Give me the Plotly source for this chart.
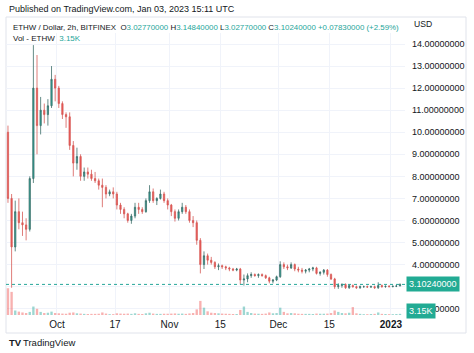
import plotly.graph_objects as go
import pandas as pd

# ---- data (daily aggregation) ----
start_day = "2022-09-17"
end_day = "2023-01-03"

opens = [
    10.0, 7.0, 4.8, 6.4, 5.9, 5.8, 5.6, 7.9, 12.0, 10.3, 11.0, 10.8, 11.2, 12.4,          # Sep 17-30
    12.0, 11.3, 10.8, 10.7, 9.4, 8.6, 8.9, 8.0, 8.2, 8.1, 7.9, 7.8, 7.6, 7.5, 7.2, 7.3,  # Oct 1-16
    7.2, 6.7, 6.5, 6.3, 6.0, 6.2, 6.6, 6.5, 6.4, 6.9, 7.3, 6.9, 7.0, 7.2, 6.9,           # Oct 17-31
    6.7, 6.4, 6.1, 6.4, 6.6, 6.4, 6.0, 5.9, 5.1, 4.0, 4.4, 4.2, 4.1, 3.9, 3.95,          # Nov 1-15
    3.9, 3.85, 3.8, 3.75, 3.8, 3.3, 3.35, 3.5, 3.55, 3.5, 3.55, 3.5, 3.4, 3.25, 3.3,     # Nov 16-30
    3.45, 4.0, 3.9, 3.85, 4.0, 3.8, 3.75, 3.7, 3.75, 3.8, 3.85, 3.6, 3.65, 3.75, 3.55,   # Dec 1-15
    3.35, 3.0, 3.05, 3.1, 2.95, 3.05, 3.0, 2.95, 3.0, 3.0, 2.98, 3.0, 2.95, 3.05, 3.0, 3.02,  # Dec 16-31
    3.0, 3.02, 3.0277,                                                                    # Jan 1-3
]
highs = [
    10.3, 7.2, 6.9, 7.0, 6.4, 6.1, 8.0, 13.95, 13.5, 11.6, 11.3, 11.5, 13.0, 12.6,
    12.1, 11.4, 10.9, 10.9, 9.6, 9.3, 9.0, 8.4, 8.4, 8.3, 8.2, 7.9, 7.9, 7.6, 7.4, 7.5,
    7.3, 6.8, 6.6, 6.35, 6.3, 6.8, 6.8, 6.6, 7.0, 7.6, 7.45, 7.05, 7.4, 7.3, 7.0,
    6.75, 6.5, 6.5, 6.8, 6.7, 6.5, 6.2, 6.0, 5.2, 4.6, 4.5, 4.35, 4.15, 4.05, 4.0,
    3.95, 3.9, 3.85, 3.85, 3.85, 3.55, 3.6, 3.65, 3.6, 3.6, 3.6, 3.55, 3.45, 3.35, 3.5,
    4.15, 4.1, 4.0, 4.1, 4.05, 3.9, 3.85, 3.8, 3.85, 3.9, 3.9, 3.7, 3.8, 3.8, 3.6,
    3.4, 3.15, 3.15, 3.15, 3.1, 3.1, 3.05, 3.05, 3.05, 3.05, 3.05, 3.05, 3.2, 3.1, 3.05, 3.07,
    3.05, 3.08, 3.1484,
]
lows = [
    6.8, 2.95, 4.6, 5.6, 5.3, 5.1, 5.5, 7.7, 9.0, 9.9, 10.4, 10.3, 11.1, 11.4,
    11.1, 10.6, 10.2, 9.2, 8.0, 8.3, 7.8, 7.8, 7.9, 7.8, 7.7, 7.4, 6.6, 7.0, 7.1, 7.0,
    6.5, 6.3, 6.1, 5.9, 5.85, 6.1, 6.3, 6.3, 6.35, 6.8, 6.8, 6.7, 6.95, 6.8, 6.5,
    6.2, 5.95, 6.0, 6.3, 6.3, 5.9, 5.7, 4.9, 3.6, 3.8, 4.0, 4.0, 3.8, 3.75, 3.8,
    3.75, 3.7, 3.7, 3.7, 3.1, 3.05, 3.2, 3.4, 3.45, 3.4, 3.45, 3.35, 3.15, 3.15, 3.25,
    3.4, 3.8, 3.75, 3.8, 3.7, 3.65, 3.6, 3.6, 3.65, 3.7, 3.55, 3.5, 3.55, 3.45, 3.3,
    2.9, 2.9, 2.95, 2.9, 2.9, 2.95, 2.9, 2.9, 2.95, 2.95, 2.95, 2.9, 2.9, 2.95, 2.95, 2.97,
    2.97, 2.98, 3.0277,
]
closes = [
    7.0, 4.8, 6.4, 5.9, 5.8, 5.6, 7.9, 12.0, 10.3, 11.0, 10.8, 11.2, 12.4, 12.0,
    11.3, 10.8, 10.7, 9.4, 8.6, 8.9, 8.0, 8.2, 8.1, 7.9, 7.8, 7.6, 7.5, 7.2, 7.3, 7.2,
    6.7, 6.5, 6.3, 6.0, 6.2, 6.6, 6.5, 6.4, 6.9, 7.3, 6.9, 7.0, 7.2, 6.9, 6.7,
    6.4, 6.1, 6.4, 6.6, 6.4, 6.0, 5.9, 5.1, 4.0, 4.4, 4.2, 4.1, 3.9, 3.95, 3.9,
    3.85, 3.8, 3.75, 3.8, 3.3, 3.35, 3.5, 3.55, 3.5, 3.55, 3.5, 3.4, 3.25, 3.3, 3.45,
    4.0, 3.9, 3.85, 4.0, 3.8, 3.75, 3.7, 3.75, 3.8, 3.85, 3.6, 3.65, 3.75, 3.55, 3.35,
    3.0, 3.05, 3.1, 2.95, 3.05, 3.0, 2.95, 3.0, 3.0, 2.98, 3.0, 2.95, 3.05, 3.0, 3.02, 3.0,
    3.02, 3.03, 3.1024,
]
volumes_k = [
    950, 820, 160, 120, 90, 70, 110, 300, 220, 110, 70, 80, 120, 70,
    60, 50, 45, 80, 90, 60, 50, 40, 35, 40, 40, 45, 90, 50, 30, 30,
    60, 50, 45, 50, 40, 60, 40, 35, 60, 80, 50, 40, 40, 45, 45,
    50, 55, 45, 50, 40, 55, 70, 200, 500, 260, 130, 80, 70, 60, 50,
    45, 40, 35, 35, 180, 300, 110, 70, 50, 45, 40, 50, 90, 60, 70,
    260, 110, 60, 70, 60, 45, 40, 40, 40, 35, 50, 45, 45, 50, 70,
    160, 110, 70, 60, 80, 280, 60, 40, 30, 30, 35, 40, 90, 40, 35, 30,
    30, 35, 40,
]

x_tick_dates = ["2022-10-01", "2022-10-17", "2022-11-01", "2022-11-15",
                "2022-12-01", "2022-12-15", "2023-01-01"]
x_tick_text = ["Oct", "17", "Nov", "15", "Dec", "15", "<b>2023</b>"]
price_ticks = [2, 3, 4, 5, 6, 7, 8, 9, 10, 11, 12, 13, 14]
# the 3.00000000 label sits fully behind the last-price box in the reference
price_tick_text = ["" if v == 3 else f"{v:.8f}" for v in price_ticks]

last_price = 3.1024
last_vol_text = "3.15K"

days = pd.date_range(start_day, end_day, freq="D") + pd.Timedelta(hours=12)
assert len(days) == len(opens) == len(highs) == len(lows) == len(closes) == len(volumes_k)

# ---- styling ----
W, H = 474, 353
UP = "#26a69a"
DOWN = "#ef5350"
TXT = "#131722"
GRID = "#f0f3fa"
FONT = "Liberation Sans, Arial, sans-serif"

plot_left, plot_right = 6, 405
pane_top, pane_bottom = 33, 315

vol_colors = ["rgba(38,166,154,0.45)" if c >= o else "rgba(239,83,80,0.45)"
              for o, c in zip(opens, closes)]

fig = go.Figure()
fig.add_trace(go.Bar(
    x=days, y=volumes_k, yaxis="y2", marker=dict(color=vol_colors, line_width=0),
    hoverinfo="skip", showlegend=False,
))
fig.add_trace(go.Candlestick(
    x=days, open=opens, high=highs, low=lows, close=closes,
    increasing=dict(line=dict(color="#3d6f69", width=0.8), fillcolor=UP),
    decreasing=dict(line=dict(color="#d65a57", width=0.8), fillcolor=DOWN),
    whiskerwidth=0, showlegend=False,
))

fig.add_shape(type="line", xref="paper", yref="y",
              x0=plot_left / W, x1=plot_right / W, y0=last_price, y1=last_price,
              line=dict(color=UP, width=1, dash="dot"))
# chart frame
fig.add_shape(type="rect", xref="paper", yref="paper",
              x0=6 / W, x1=466 / W, y0=1 - 333 / H, y1=1 - 17 / H,
              line=dict(color="#e0e3eb", width=1), layer="below")

fig.update_layout(
    width=W, height=H, margin=dict(l=0, r=0, t=0, b=0),
    paper_bgcolor="white", plot_bgcolor="white",
    font=dict(family=FONT, color=TXT, size=9),
    bargap=0.35, boxgap=0.5, hovermode=False,
    xaxis=dict(
        domain=[plot_left / W, plot_right / W], type="date",
        range=["2022-09-16 23:00", "2023-01-04 21:00"],
        rangeslider=dict(visible=False),
        tickvals=x_tick_dates, ticktext=x_tick_text,
        tickfont=dict(size=10, color=TXT), ticks="", ticklabelstandoff=2,
        showgrid=True, gridcolor=GRID, gridwidth=1, zeroline=False, showline=False,
    ),
    yaxis=dict(
        domain=[1 - pane_bottom / H, 1 - pane_top / H],
        range=[14 - (pane_bottom - 44) / 22.06, 14 + (44 - pane_top) / 22.06],
        side="right", tickvals=price_ticks, ticktext=price_tick_text,
        tickfont=dict(size=9, color=TXT), ticks="", ticklabelstandoff=6,
        showgrid=True, gridcolor=GRID, gridwidth=1, zeroline=False, showline=False,
    ),
    yaxis2=dict(overlaying="y", range=[0, 10000], visible=False),
)

fig.add_annotation(text="Published on TradingView.com, Jan 03, 2023 15:11 UTC",
                   xref="paper", yref="paper", x=7 / W, y=1 - 9 / H,
                   xanchor="left", yanchor="middle", showarrow=False,
                   font=dict(size=9, color=TXT))
hdr = ("ETHW / Dollar, 2h, BITFINEX  "
       f"O<span style='color:{UP}'>3.02770000</span> "
       f"H<span style='color:{UP}'>3.14840000</span> "
       f"L<span style='color:{UP}'>3.02770000</span> "
       f"C<span style='color:{UP}'>3.10240000</span> "
       f"<span style='color:{UP}'>+0.07830000 (+2.59%)</span>")
fig.add_annotation(text=hdr, xref="paper", yref="paper", x=11 / W, y=1 - 27 / H,
                   xanchor="left", yanchor="middle", showarrow=False,
                   font=dict(size=7.9, color=TXT))
fig.add_annotation(text=f"Vol - ETHW  <span style='color:{UP}'>3.15K</span>",
                   xref="paper", yref="paper", x=11 / W, y=1 - 38 / H,
                   xanchor="left", yanchor="middle", showarrow=False,
                   font=dict(size=8, color=TXT))
fig.add_annotation(text="USD", xref="paper", yref="paper", x=412 / W, y=1 - 24 / H,
                   xanchor="left", yanchor="middle", showarrow=False,
                   font=dict(size=8.6, color=TXT))
fig.add_annotation(text=f"{last_price:.8f}", xref="paper", yref="y",
                   x=406 / W, y=last_price, xanchor="left", yanchor="middle",
                   showarrow=False, bgcolor="#22ab94", borderpad=2,
                   font=dict(size=9, color="white"))
fig.add_annotation(text=last_vol_text, xref="paper", yref="paper",
                   x=406 / W, y=1 - 310.5 / H, xanchor="left", yanchor="middle",
                   showarrow=False, bgcolor="#22ab94", borderpad=2,
                   font=dict(size=9, color="white"))
fig.add_annotation(text="<b>TV</b>", xref="paper", yref="paper", x=7 / W, y=1 - 342 / H,
                   xanchor="left", yanchor="middle", showarrow=False,
                   font=dict(size=9.5, color=TXT))
fig.add_annotation(text="TradingView", xref="paper", yref="paper", x=21 / W, y=1 - 342 / H,
                   xanchor="left", yanchor="middle", showarrow=False,
                   font=dict(size=9.5, color=TXT))

fig.write_html("out.html")
